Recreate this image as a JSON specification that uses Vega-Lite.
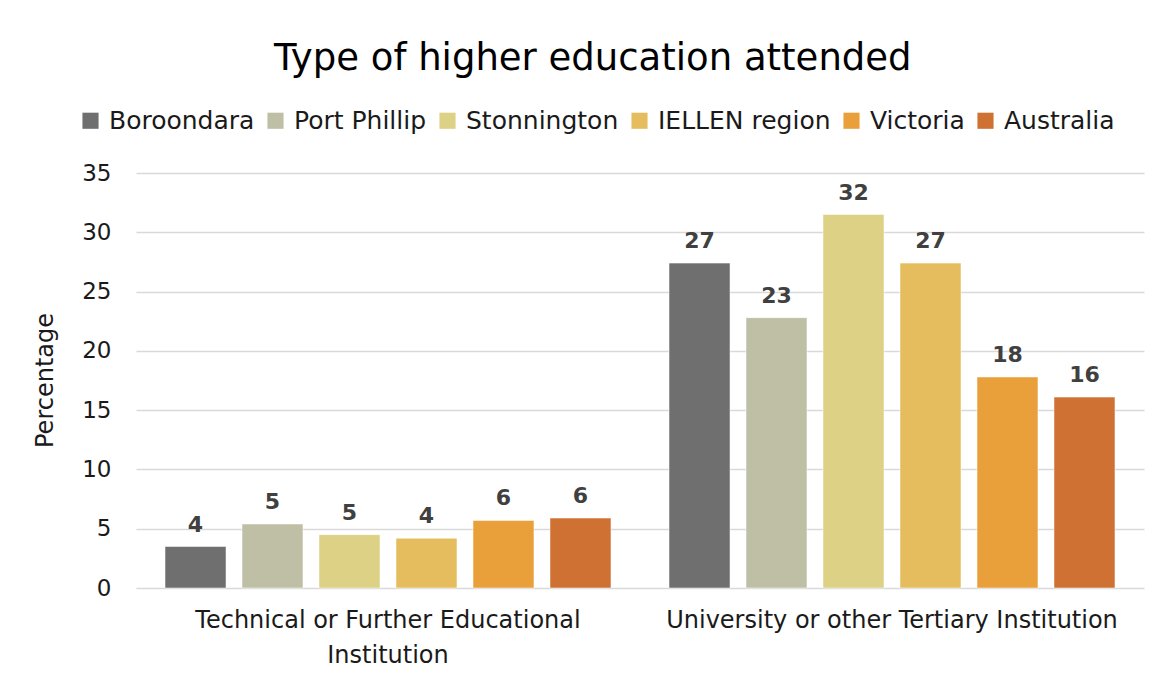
{
  "$schema": "https://vega.github.io/schema/vega-lite/v6.json",
  "width": 1008,
  "height": 415,
  "autosize": {"type": "none"},
  "padding": {"left": 136, "top": 173, "right": 16, "bottom": 93},
  "background": "white",
  "config": {"view": {"stroke": null}},
  "title": {
    "text": "Type of higher education attended",
    "fontSize": 37,
    "font": "DejaVu Sans",
    "fontWeight": "normal",
    "color": "#000000",
    "anchor": "start",
    "frame": "group",
    "dx": 138,
    "offset": 30
  },
  "data": {
    "values": [
      {"type": "Technical or Further Educational Institution", "area": "Boroondara", "value": 3.5},
      {"type": "Technical or Further Educational Institution", "area": "Port Phillip", "value": 5.4},
      {"type": "Technical or Further Educational Institution", "area": "Stonnington", "value": 4.5},
      {"type": "Technical or Further Educational Institution", "area": "IELLEN region", "value": 4.2},
      {"type": "Technical or Further Educational Institution", "area": "Victoria", "value": 5.7},
      {"type": "Technical or Further Educational Institution", "area": "Australia", "value": 5.9},
      {"type": "University or other Tertiary Institution", "area": "Boroondara", "value": 27.4},
      {"type": "University or other Tertiary Institution", "area": "Port Phillip", "value": 22.8},
      {"type": "University or other Tertiary Institution", "area": "Stonnington", "value": 31.5},
      {"type": "University or other Tertiary Institution", "area": "IELLEN region", "value": 27.4},
      {"type": "University or other Tertiary Institution", "area": "Victoria", "value": 17.8},
      {"type": "University or other Tertiary Institution", "area": "Australia", "value": 16.1}
    ]
  },
  "encoding": {
    "x": {
      "field": "type",
      "type": "nominal",
      "sort": null,
      "scale": {"paddingInner": 0, "paddingOuter": 0},
      "axis": {
        "title": null,
        "labelAngle": 0,
        "domain": false,
        "ticks": false,
        "labelFontSize": 24,
        "labelFont": "DejaVu Sans",
        "labelColor": "#1a1a1a",
        "labelPadding": 20,
        "labelLineHeight": 35,
        "labelLimit": 0,
        "labelExpr": "datum.label == 'Technical or Further Educational Institution' ? ['Technical or Further Educational', 'Institution'] : datum.label"
      }
    },
    "xOffset": {
      "field": "area",
      "type": "nominal",
      "sort": ["Boroondara", "Port Phillip", "Stonnington", "IELLEN region", "Victoria", "Australia"],
      "scale": {"paddingInner": 0.208, "paddingOuter": 0.377}
    },
    "y": {
      "field": "value",
      "type": "quantitative",
      "scale": {"domain": [0, 35]},
      "axis": {
        "title": "Percentage",
        "titleFontSize": 24,
        "titleFont": "DejaVu Sans",
        "titleFontWeight": "normal",
        "titleColor": "#1a1a1a",
        "titleX": -91,
        "titleY": 207,
        "titleAngle": -90,
        "titleBaseline": "middle",
        "values": [0, 5, 10, 15, 20, 25, 30, 35],
        "domain": false,
        "ticks": false,
        "labelFontSize": 23,
        "labelFont": "DejaVu Sans",
        "labelColor": "#1a1a1a",
        "labelPadding": 25,
        "gridColor": "#d9d9d9",
        "gridWidth": 1.5
      }
    }
  },
  "layer": [
    {
      "mark": {"type": "bar", "stroke": "white", "strokeWidth": 0.5},
      "encoding": {
        "color": {
          "field": "area",
          "type": "nominal",
          "sort": ["Boroondara", "Port Phillip", "Stonnington", "IELLEN region", "Victoria", "Australia"],
          "scale": {
            "domain": ["Boroondara", "Port Phillip", "Stonnington", "IELLEN region", "Victoria", "Australia"],
            "range": ["#6f6f6f", "#bfbfa5", "#ddd186", "#e6bd5e", "#e9a03b", "#cf7133"]
          },
          "legend": {
            "title": null,
            "orient": "none",
            "direction": "horizontal",
            "legendX": -58,
            "legendY": -65,
            "symbolType": "square",
            "symbolSize": 260,
            "symbolStrokeWidth": 0,
            "labelFontSize": 25,
            "labelFont": "DejaVu Sans",
            "labelColor": "#1a1a1a",
            "labelOffset": 6,
            "labelLimit": 0,
            "columnPadding": 8
          }
        }
      }
    },
    {
      "mark": {"type": "text", "baseline": "alphabetic", "dy": -15, "fontSize": 22, "fontWeight": "bold", "font": "DejaVu Sans", "color": "#404040"},
      "encoding": {
        "text": {"field": "value", "type": "quantitative", "format": ".0f"}
      }
    }
  ]
}
